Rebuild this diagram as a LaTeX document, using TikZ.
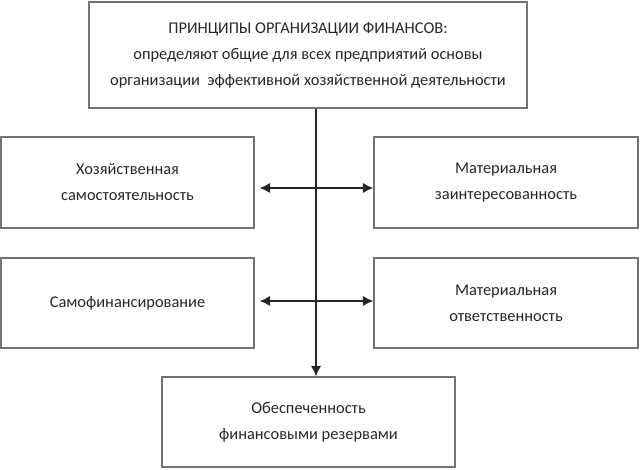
\documentclass[tikz,border=0pt]{standalone}
\usepackage{fontspec}
\setmainfont{Carlito}
\usepackage{tikz}
\usetikzlibrary{positioning, arrows.meta}
\tikzset {
    box/.style={rectangle, draw=black!55, line width=0.8pt, align=center,
                inner sep=0pt, text=black!85,
                font=\fontsize{12.3}{19.5}\selectfont},
    link/.style={draw=black!85, line width=1.5pt},
    tip/.style={-{Latex[length=8pt,width=8pt]}}
}

\begin{document}
\begin{tikzpicture}[
  x=0.75pt, y=-0.75pt
  ]
\useasboundingbox (0,0) rectangle (640,470);

\node[box, minimum width=328.5pt, minimum height=79.5pt] (top) at (308,55)
  {ПРИНЦИПЫ ОРГАНИЗАЦИИ ФИНАНСОВ:\\
   определяют общие для всех предприятий основы\\
   организации\ \ эффективной хозяйственной деятельности};

\node[box, minimum width=189.75pt, minimum height=68.25pt] (hoz) at (127.5,182.5)
  {Хозяйственная\\самостоятельность};
\node[box, minimum width=198pt, minimum height=68.25pt] (interest) at (506,182.5)
  {Материальная\\заинтересованность};
\node[box, minimum width=189.75pt, minimum height=67.5pt] (selffin) at (127.5,303)
  {Самофинансирование};
\node[box, minimum width=198pt, minimum height=67.5pt] (resp) at (506,303)
  {Материальная\\ответственность};
\node[box, minimum width=219.75pt, minimum height=67.5pt] (reserve) at (308.5,422)
  {Обеспеченность\\финансовыми резервами};

% trunk
\coordinate (trunk) at (316,0);
\coordinate (row1) at (0,188);
\coordinate (row2) at (0,301);
\draw[link, tip] (top.south -| trunk) -- (reserve.north -| trunk);

% side arrows
\draw[link, tip] (row1 -| trunk) -- (row1 -| interest.west);
\draw[link, tip] (row1 -| trunk) -- ([xshift=3.75pt]row1 -| hoz.east);
\draw[link, tip] (row2 -| trunk) -- (row2 -| resp.west);
\draw[link, tip] (row2 -| trunk) -- ([xshift=3.75pt]row2 -| selffin.east);

\end{tikzpicture}
\end{document}
